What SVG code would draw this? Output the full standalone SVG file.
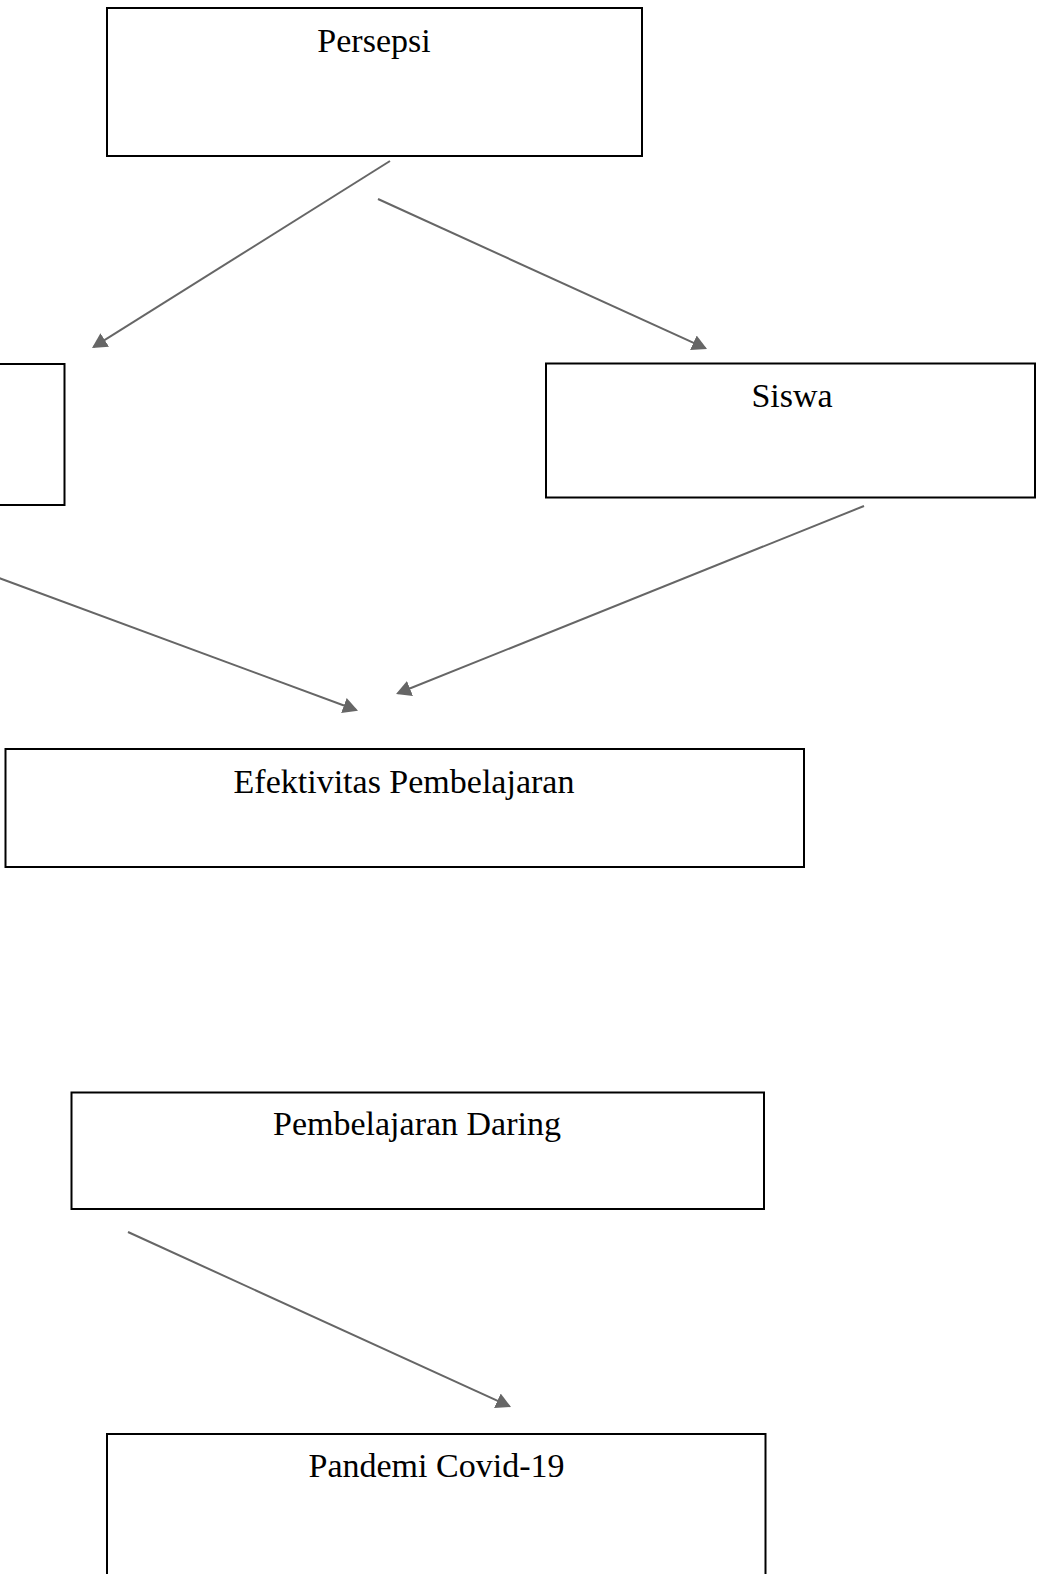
<svg xmlns="http://www.w3.org/2000/svg" width="1042" height="1574" viewBox="0 0 1042 1574">
<style>
.box{fill:#fff;stroke:#000;stroke-width:2}
.lbl{font-family:"Liberation Serif","Times New Roman",serif;font-size:34px;fill:#000;text-anchor:middle}
.conn{stroke:#666;stroke-width:2;fill:none;marker-end:url(#ah)}
</style>
<defs>
<marker id="ah" markerUnits="userSpaceOnUse" markerWidth="16" markerHeight="16" refX="13" refY="8" orient="auto">
<path d="M0,0 L15,8 L0,16 z" fill="#666"/>
</marker>
</defs>
<rect width="1042" height="1574" fill="#fff"/>
<g id="connectors">
<line class="conn" x1="390" y1="161" x2="93.7" y2="346.9"/>
<line class="conn" x1="378" y1="199" x2="705.2" y2="348.2"/>
<line class="conn" x1="-2" y1="577.6" x2="356.1" y2="710"/>
<line class="conn" x1="864" y1="506" x2="397.9" y2="693.3"/>
<line class="conn" x1="128" y1="1232" x2="509.2" y2="1406.2"/>
</g>
<g id="node-persepsi">
<rect class="box" x="107" y="8" width="535" height="148"/>
<text class="lbl" x="374" y="51.5">Persepsi</text>
</g>
<g id="node-left">
<rect class="box" x="-100" y="364" width="164.5" height="141"/>
</g>
<g id="node-siswa">
<rect class="box" x="546" y="363.5" width="489" height="134"/>
<text class="lbl" x="792" y="406.5">Siswa</text>
</g>
<g id="node-efektivitas">
<rect class="box" x="5.5" y="749" width="798.5" height="118"/>
<text class="lbl" x="404" y="793">Efektivitas Pembelajaran</text>
</g>
<g id="node-daring">
<rect class="box" x="71.5" y="1092.5" width="692.5" height="116.5"/>
<text class="lbl" x="417" y="1135">Pembelajaran Daring</text>
</g>
<g id="node-pandemi">
<rect class="box" x="107" y="1434" width="658.5" height="200"/>
<text class="lbl" x="436.5" y="1476.5">Pandemi Covid-19</text>
</g>
</svg>
